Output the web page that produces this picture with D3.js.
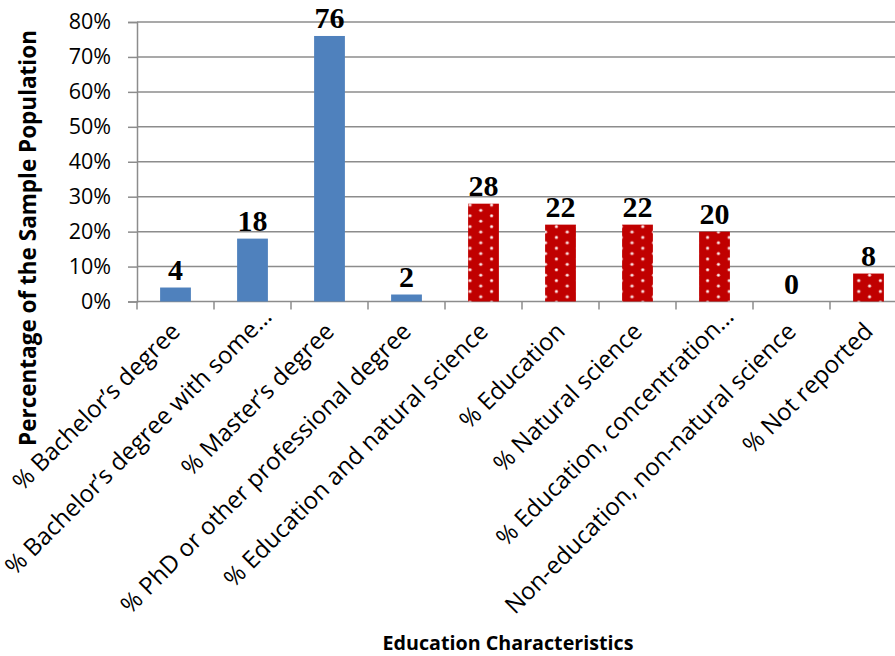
<!DOCTYPE html>
<html>
<head>
<meta charset="utf-8">
<script src="https://cdn.jsdelivr.net/npm/d3@7"></script>
<style>
  html, body { margin: 0; padding: 0; background: #fff; }
  svg { display: block; }
</style>
</head>
<body>
<svg id="chart" width="895" height="656"></svg>
<script>
// ---- data ----
const categories = [
  "% Bachelor\u2019s degree",
  "% Bachelor\u2019s degree with some\u2026",
  "% Master\u2019s degree",
  "% PhD or other professional degree",
  "% Education and natural science",
  "% Education",
  "% Natural science",
  "% Education, concentration\u2026",
  "Non-education, non-natural science",
  "% Not reported"
];
const values = [4, 18, 76, 2, 28, 22, 22, 20, 0, 8];
const groups = ["degree", "degree", "degree", "degree", "major", "major", "major", "major", "major", "major"];
const yTicks = [0, 10, 20, 30, 40, 50, 60, 70, 80];
const yTitle = "Percentage of the Sample Population";
const xTitle = "Education Characteristics";

// ---- layout ----
const svg = d3.select("#chart");
const plotLeft = 137, plotRight = 907, plotTop = 22, plotBottom = 301.5;

const x = d3.scaleBand()
  .domain(categories)
  .range([plotLeft, plotRight])
  .paddingInner(0.6)
  .paddingOuter(0.3);
const y = d3.scaleLinear().domain([0, 80]).range([plotBottom, plotTop]);

const gridColor = "#8c8c8c";

// pattern for red bars
const defs = svg.append("defs");
const pat = defs.append("pattern")
  .attr("id", "dots")
  .attr("patternUnits", "userSpaceOnUse")
  .attr("x", 470 - 5.4).attr("y", 205 - 2.7)
  .attr("width", 21.6).attr("height", 10.8);
pat.append("rect").attr("width", 21.6).attr("height", 10.8).attr("fill", "#c00000");
[[5.4, 2.7], [16.2, 8.1]].forEach(([cx, cy]) => {
  pat.append("circle").attr("cx", cx).attr("cy", cy).attr("r", 1.8).attr("fill", "#e88a8a");
  pat.append("circle").attr("cx", cx).attr("cy", cy).attr("r", 1.1).attr("fill", "#ffffff");
});

// gridlines + y axis
const yAxis = d3.axisLeft(y)
  .tickValues(yTicks)
  .tickSize(9)
  .tickFormat(d => d + "%");
const gy = svg.append("g").attr("transform", `translate(${plotLeft},0)`).call(yAxis);
gy.select(".domain").attr("stroke", gridColor).attr("stroke-width", 1.5);
gy.selectAll(".tick line").attr("stroke", gridColor).attr("stroke-width", 1.5);
gy.selectAll(".tick text")
  .attr("x", -26)
  .attr("font-family", "Open Sans, sans-serif")
  .attr("font-size", 21.5)
  .attr("fill", "#000");

svg.append("g").selectAll("line")
  .data(yTicks.filter(d => d > 0))
  .join("line")
  .attr("x1", plotLeft).attr("x2", 895)
  .attr("y1", d => y(d)).attr("y2", d => y(d))
  .attr("stroke", gridColor).attr("stroke-width", 1.5);

// x axis
const step = x.step();
const boundaries = categories.map(c => x(c) - step * x.paddingOuter());
boundaries.push(plotRight);
const gx = svg.append("g");
gx.append("line")
  .attr("x1", plotLeft).attr("x2", 895)
  .attr("y1", plotBottom).attr("y2", plotBottom)
  .attr("stroke", gridColor).attr("stroke-width", 1.5);
gx.selectAll(".xt").data(boundaries).join("line")
  .attr("class", "xt")
  .attr("x1", d => d).attr("x2", d => d)
  .attr("y1", plotBottom).attr("y2", plotBottom + 8)
  .attr("stroke", gridColor).attr("stroke-width", 1.5);

// bars
svg.append("g").selectAll("rect")
  .data(categories.map((c, i) => ({ c, v: values[i], g: groups[i] })))
  .join("rect")
  .attr("x", d => x(d.c))
  .attr("width", x.bandwidth())
  .attr("y", d => y(d.v))
  .attr("height", d => y(0) - y(d.v))
  .attr("fill", d => d.g === "degree" ? "#4f81bd" : "url(#dots)");

// data labels
svg.append("g").selectAll("text")
  .data(categories.map((c, i) => ({ c, v: values[i] })))
  .join("text")
  .attr("x", d => x(d.c) + x.bandwidth() / 2)
  .attr("y", d => y(d.v) - 8)
  .attr("text-anchor", "middle")
  .attr("font-family", "Liberation Serif, Times New Roman, serif")
  .attr("font-weight", "bold")
  .attr("font-size", 30)
  .attr("fill", "#000")
  .text(d => d.v);

// category labels (truncated labels keep a longer layout box, so they sit further along)
svg.append("g").selectAll("text")
  .data(categories)
  .join("text")
  .attr("transform", d => {
    const extra = d.endsWith("\u2026") ? 21 : 0;
    const ax = x(d) + x.bandwidth() / 2 + extra * Math.SQRT1_2;
    const ay = plotBottom + 25.5 - extra * Math.SQRT1_2;
    return `translate(${ax},${ay}) rotate(-45)`;
  })
  .attr("text-anchor", "end")
  .attr("dy", "0.35em")
  .attr("font-family", "Open Sans, sans-serif")
  .attr("font-size", 24)
  .attr("fill", "#000")
  .text(d => d);

// axis titles
svg.append("text")
  .attr("transform", `translate(36,238) rotate(-90)`)
  .attr("text-anchor", "middle")
  .attr("font-family", "Open Sans, sans-serif")
  .attr("font-weight", "bold")
  .attr("font-size", 22.5)
  .attr("fill", "#000")
  .text(yTitle);

svg.append("text")
  .attr("x", 508).attr("y", 650)
  .attr("text-anchor", "middle")
  .attr("font-family", "Open Sans, sans-serif")
  .attr("font-weight", "bold")
  .attr("font-size", 19.7)
  .attr("fill", "#000")
  .text(xTitle);
</script>
</body>
</html>
